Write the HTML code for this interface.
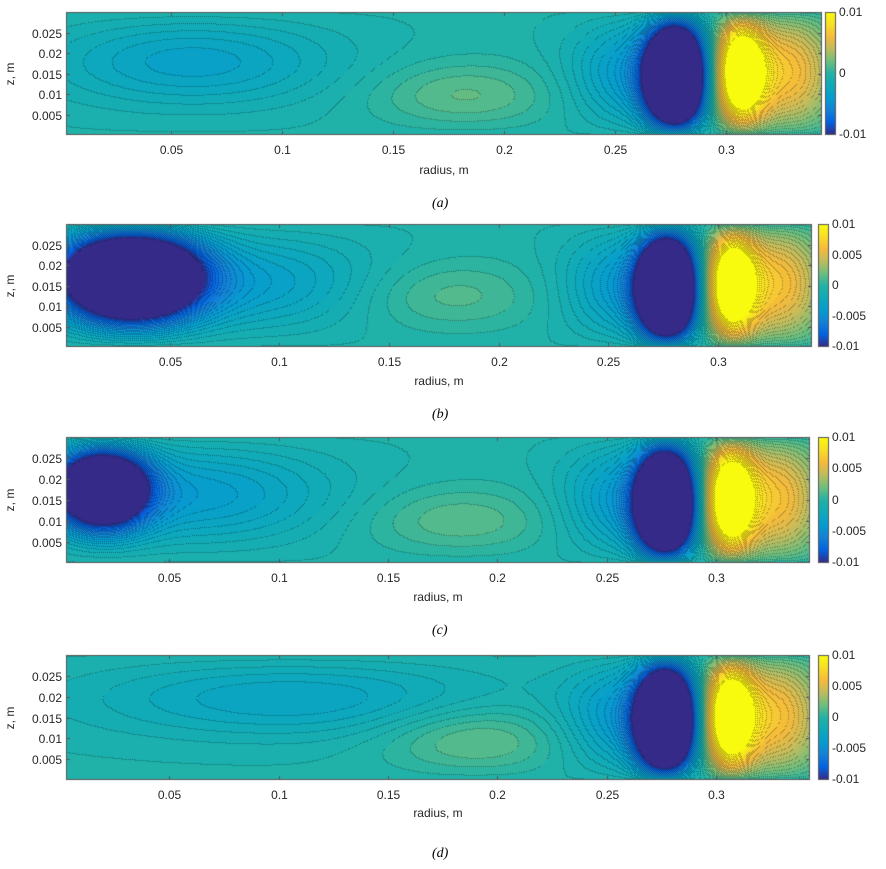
<!DOCTYPE html>
<html><head><meta charset="utf-8">
<style>
body{margin:0;background:#fff;width:886px;height:869px;position:relative;overflow:hidden;font-family:"Liberation Sans",sans-serif;}
canvas{position:absolute;left:0;top:0;}
.t{position:absolute;font-size:12px;color:#262626;white-space:nowrap;}
.cap{position:absolute;font-family:"Liberation Serif",serif;font-style:italic;font-size:14px;color:#000;}
</style></head>
<body>
<canvas id="cv" width="886" height="869"></canvas>
<div id="labels"></div>
<script>
// ---- data ----
const xTicks=[0.05,0.1,0.15,0.2,0.25,0.3];
const yTicks=[0.005,0.01,0.015,0.02,0.025];
const cbTicksA=[0.01,0,-0.01];
const cbTicksB=[0.01,0.005,0,-0.005,-0.01];
const panelNames=['a','b','c','d'];
// blob params per panel: [r0, z0, amplitude, sigmaR, sigmaZ]
const commonBlobs=[[0.277,0.014,-0.028,0.0085,0.0105],[0.306,0.0155,0.015,0.008,0.0125],[0.328,0.016,0.0068,0.015,0.017],[0.26,0.015,-0.004,0.02,0.012]];
const blobsA=[[0.06,0.019,-0.003,0.045,0.009],[0.182,0.0085,0.0022,0.03,0.0065]];
const blobsB=[[0.032,0.018,-0.026,0.021,0.0085],[0.09,0.016,-0.003,0.04,0.01],[0.175,0.012,0.0018,0.032,0.007]];
const blobsC=[[0.019,0.0185,-0.021,0.014,0.007],[0.06,0.017,-0.0035,0.045,0.01],[0.182,0.009,0.002,0.032,0.0065]];
const blobsD=[[0.105,0.021,-0.0028,0.065,0.0075],[0.19,0.0085,0.0024,0.03,0.0065]];
const xMin=0.0027,xMax=0.343,zMin=0,zMax=0.0301,vMin=-0.01,vMax=0.01,bias=-0.0004;
const layout=[
 {L:66,R:822,T:12,B:135,cbL:825,cbR:836,cb:cbTicksA,xl:170,cap:205,blobs:blobsA},
 {L:66,R:812,T:224,B:347,cbL:818,cbR:829,cb:cbTicksB,xl:381,cap:416,blobs:blobsB},
 {L:66,R:810,T:437,B:563,cbL:818,cbR:829,cb:cbTicksB,xl:597,cap:632,blobs:blobsC},
 {L:66,R:810,T:655,B:780,cbL:818,cbR:829,cb:cbTicksB,xl:813,cap:855,blobs:blobsD}];
const parula=[[53,42,135],[3,99,225],[20,129,214],[6,156,207],[14,170,186],[35,178,165],[110,190,125],[190,188,95],[245,186,60],[248,222,38],[249,251,14]];
function cmap(t){t=Math.max(0,Math.min(1,t));const f=t*10,i=Math.min(9,Math.floor(f)),u=f-i;const a=parula[i],b=parula[i+1];return [a[0]+(b[0]-a[0])*u,a[1]+(b[1]-a[1])*u,a[2]+(b[2]-a[2])*u];}
function field(blobs,r,z){let v=0;for(const b of blobs.concat(commonBlobs)){const dr=(r-b[0])/b[3],dz=(z-b[1])/b[4];v+=b[2]*Math.exp(-(dr*dr+dz*dz)*0.5);}
 const taper=Math.pow(Math.sin(Math.PI*z/zMax),0.5);return v*taper+bias;}
const cv=document.getElementById('cv'),ctx=cv.getContext('2d');
const lab=document.getElementById('labels');
function text(x,y,s,name,align){const d=document.createElement('div');d.className='t';d.textContent=s;
 
 
 d.style.top=(y-7)+'px';if(align==='c'){d.style.left=(x-40)+'px';d.style.width='80px';d.style.textAlign='center';}
 else if(align==='r'){d.style.left=(x-80)+'px';d.style.width='80px';d.style.textAlign='right';}else d.style.left=x+'px';lab.appendChild(d);}
const step=0.0005;
layout.forEach((p,k)=>{
 const W=p.R-p.L,H=p.B-p.T;const img=ctx.createImageData(W,H);const lev=new Int16Array(W*H);
 const xs=r=>p.L+(r-xMin)/(xMax-xMin)*W, ys=z=>p.B-(z-zMin)/(zMax-zMin)*H;
 for(let j=0;j<H;j++)for(let i=0;i<W;i++){const r=xMin+(i+0.5)/W*(xMax-xMin),z=zMax-(j+0.5)/H*(zMax-zMin);
  const v=field(p.blobs,r,z);lev[j*W+i]=Math.floor(Math.max(vMin-step,Math.min(vMax,v))/step);}
 for(let j=0;j<H;j++)for(let i=0;i<W;i++){const l=lev[j*W+i];const v=(l+0.5)*step;let c=cmap((v-vMin)/(vMax-vMin));
  const edge=(i<W-1&&lev[j*W+i+1]!==l)||(j<H-1&&lev[(j+1)*W+i]!==l);
  if(edge&&((i+j)%2===0)&&l>=vMin/step&&l<vMax/step){c=[c[0]*0.65,c[1]*0.65,c[2]*0.65];}
  const o=(j*W+i)*4;img.data[o]=c[0];img.data[o+1]=c[1];img.data[o+2]=c[2];img.data[o+3]=255;}
 ctx.putImageData(img,p.L,p.T);
 ctx.strokeStyle='#555';ctx.lineWidth=1;ctx.strokeRect(p.L+0.5,p.T+0.5,W-1,H-1);
 xTicks.forEach(t=>{const x=Math.round(xs(t))+0.5;ctx.beginPath();ctx.moveTo(x,p.B);ctx.lineTo(x,p.B-4);ctx.moveTo(x,p.T);ctx.lineTo(x,p.T+4);ctx.stroke();
  text(x,p.B+15,String(t),'x-tick-label-'+panelNames[k],'c');});
 yTicks.forEach(t=>{const y=Math.round(ys(t))+0.5;ctx.beginPath();ctx.moveTo(p.L,y);ctx.lineTo(p.L+4,y);ctx.moveTo(p.R,y);ctx.lineTo(p.R-4,y);ctx.stroke();
  text(p.L-4,y,String(t),'y-tick-label-'+panelNames[k],'r');});
 const cbH=H;for(let j=0;j<cbH;j++){const c=cmap(1-j/(cbH-1));ctx.fillStyle='rgb('+c.map(Math.round).join(',')+')';ctx.fillRect(p.cbL,p.T+j,p.cbR-p.cbL,1);}
 ctx.strokeRect(p.cbL+0.5,p.T+0.5,p.cbR-p.cbL-1,cbH-1);
 p.cb.forEach(t=>{const y=p.T+(vMax-t)/(vMax-vMin)*(cbH-1);text(p.cbR+3,y,String(t),'colorbar-label-'+panelNames[k]);});
 text((p.L+p.R)/2,p.xl,'radius, m','x-axis-title-'+panelNames[k],'c');
 const yt=document.createElement('div');yt.className='t';yt.textContent='z, m';
 
 
 yt.style.left='-10px';yt.style.top=((p.T+p.B)/2-7)+'px';yt.style.width='40px';yt.style.textAlign='center';yt.style.transform='rotate(-90deg)';lab.appendChild(yt);
 const cp=document.createElement('div');cp.className='cap';cp.textContent='('+panelNames[k]+')';
 
 
 cp.style.left='432px';cp.style.top=(p.cap-9)+'px';lab.appendChild(cp);
});
</script>
</body></html>
